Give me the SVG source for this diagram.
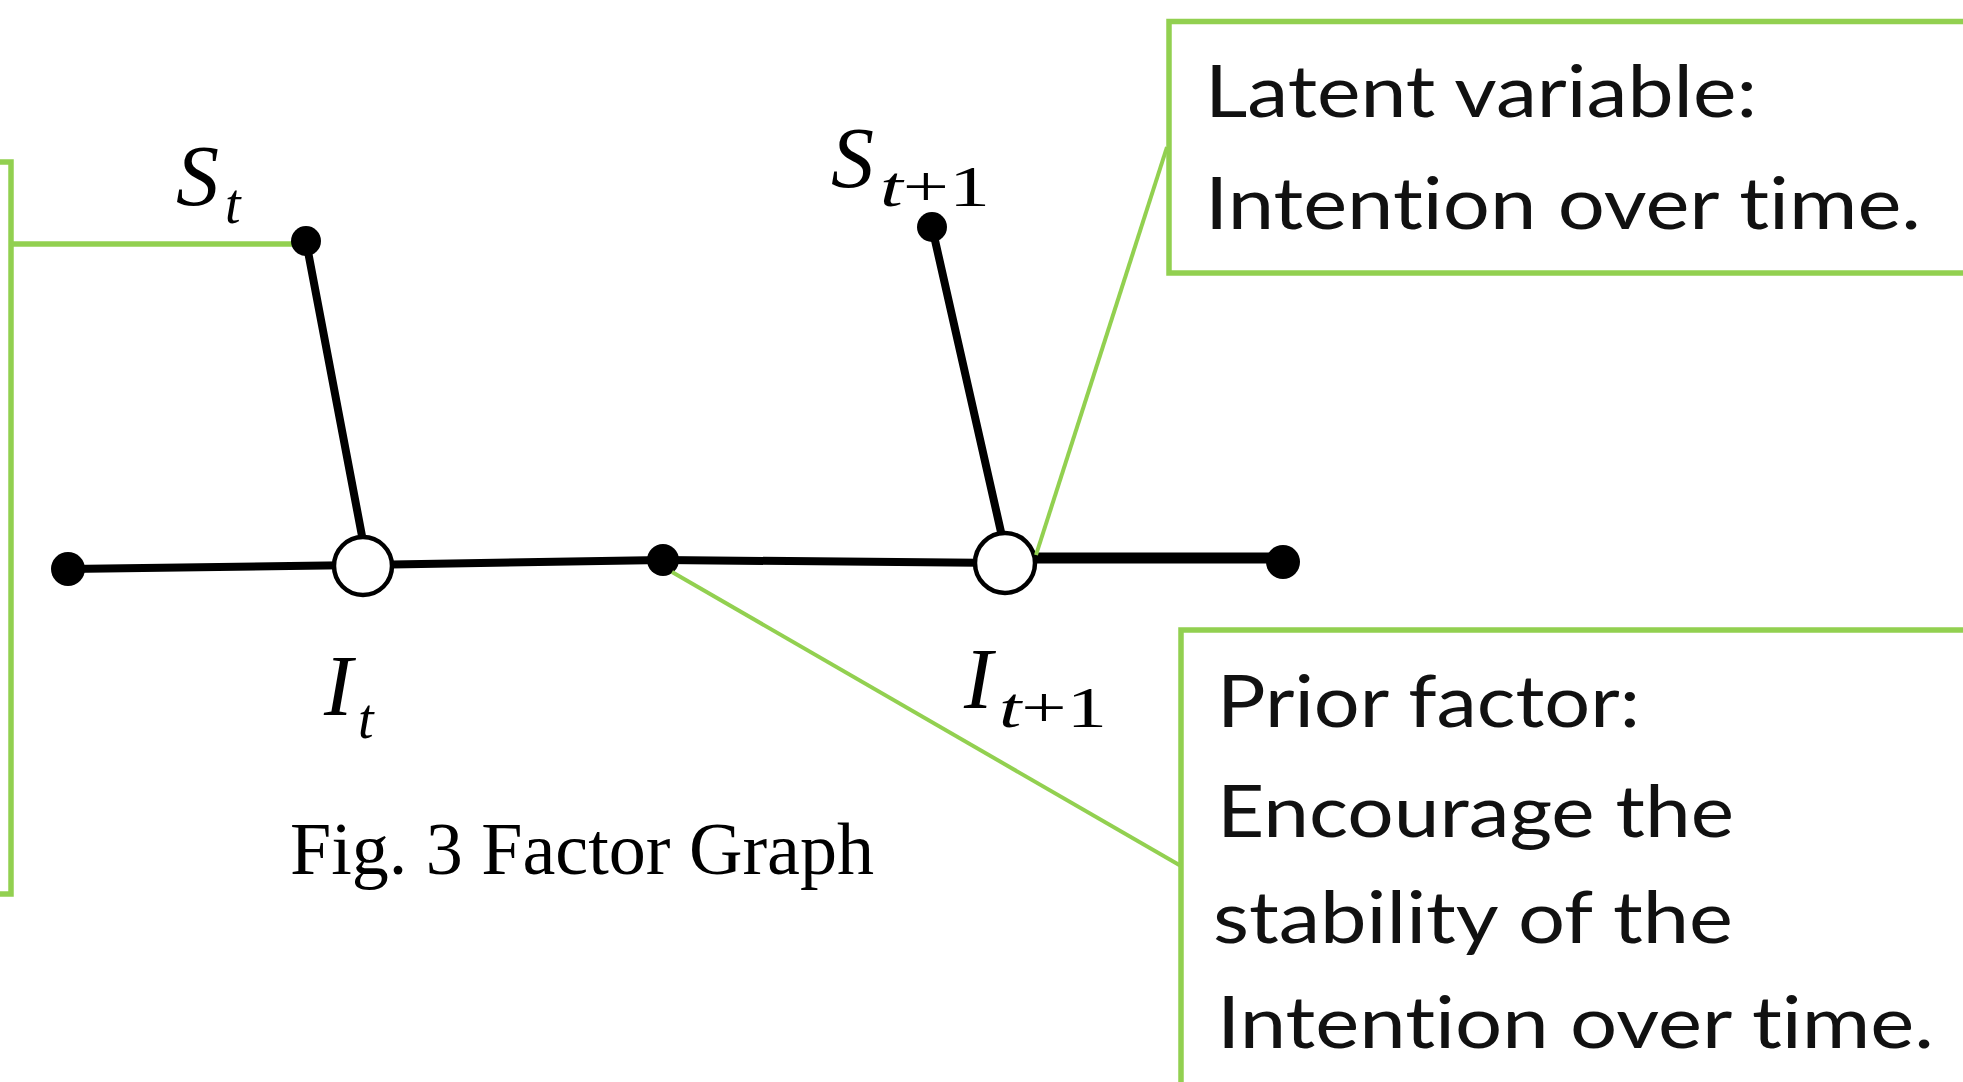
<svg xmlns="http://www.w3.org/2000/svg" width="1963" height="1082" viewBox="0 0 1963 1082">
<style>
.edge{stroke:#000;stroke-width:8;fill:none;stroke-linecap:round}
.dot{fill:#000}
.var{fill:#fff;stroke:#000;stroke-width:4.5}
.callout{fill:none;stroke:#92d050;stroke-width:5.5}
.lead{stroke:#92d050;stroke-width:4;fill:none}
.note{font-family:Lato,"Open Sans","Liberation Sans",sans-serif;font-size:72px;fill:#111;font-variant-ligatures:none;font-feature-settings:"liga" 0}
.math{font-family:"Liberation Serif","DejaVu Serif",serif;font-style:italic;fill:#000}
.up{font-style:normal}
.cap{font-family:"Liberation Serif","Times New Roman",serif;font-size:74px;fill:#000}
</style>
<rect width="1963" height="1082" fill="#fff"/>

<g id="connectors">
  <line class="edge" x1="68" y1="569" x2="362" y2="565"/>
  <line class="edge" x1="362" y1="565" x2="663" y2="560"/>
  <line class="edge" x1="663" y1="560" x2="1005" y2="563"/>
  <line class="edge" x1="1005" y1="558" x2="1283" y2="558" style="stroke-width:11"/>
  <line class="edge" x1="306" y1="241" x2="362" y2="536"/>
  <line class="edge" x1="932" y1="227" x2="1001" y2="532"/>
</g>

<g id="callout-left">
  <rect class="callout" x="-100" y="162" width="111" height="732"/>
  <line class="callout" x1="11" y1="244" x2="300" y2="244"/>
</g>

<g id="node-dot-left"><circle class="dot" cx="68" cy="569" r="17"/></g>
<g id="node-I-t"><circle class="var" cx="363" cy="566" r="29"/></g>
<g id="node-dot-mid"><circle class="dot" cx="663" cy="560" r="16"/></g>
<g id="node-I-t1"><circle class="var" cx="1005" cy="563" r="30"/></g>
<g id="node-dot-right"><circle class="dot" cx="1283" cy="562" r="17"/></g>
<g id="node-S-t"><circle class="dot" cx="306" cy="241" r="15"/></g>
<g id="node-S-t1"><circle class="dot" cx="932" cy="227" r="15"/></g>

<g id="labels">
  <text class="math" x="176" y="205" font-size="86">S</text>
  <text class="math" x="225" y="223" font-size="56">t</text>
  <text class="math" x="831" y="187" font-size="86">S</text>
  <text class="math" x="880" y="206" font-size="56" textLength="110" lengthAdjust="spacingAndGlyphs">t<tspan class="up">+1</tspan></text>
  <text class="math" x="324" y="715" font-size="86">I</text>
  <text class="math" x="358" y="738" font-size="56">t</text>
  <text class="math" x="964" y="708" font-size="86">I</text>
  <text class="math" x="999" y="727" font-size="56" textLength="108" lengthAdjust="spacingAndGlyphs">t<tspan class="up">+1</tspan></text>
  <text class="cap" x="290" y="874" textLength="584" lengthAdjust="spacingAndGlyphs">Fig. 3 Factor Graph</text>
</g>

<g id="callout-latent">
  <line class="lead" x1="1167" y1="147" x2="1036" y2="555"/>
  <rect class="callout" x="1169" y="21.5" width="900" height="251.5"/>
  <text class="note" x="1205" y="117" textLength="552" lengthAdjust="spacingAndGlyphs">Latent variable:</text>
  <text class="note" x="1205" y="229" textLength="716" lengthAdjust="spacingAndGlyphs">Intention over time.</text>
</g>

<g id="callout-prior">
  <line class="lead" x1="672" y1="572" x2="1181" y2="866"/>
  <rect class="callout" x="1181" y="630" width="900" height="600"/>
  <text class="note" x="1217" y="727" textLength="423" lengthAdjust="spacingAndGlyphs">Prior factor:</text>
  <text class="note" x="1217" y="837" textLength="517" lengthAdjust="spacingAndGlyphs">Encourage the</text>
  <text class="note" x="1213" y="943" textLength="520" lengthAdjust="spacingAndGlyphs">stability of the</text>
  <text class="note" x="1217" y="1048" textLength="717" lengthAdjust="spacingAndGlyphs">Intention over time.</text>
</g>
</svg>
